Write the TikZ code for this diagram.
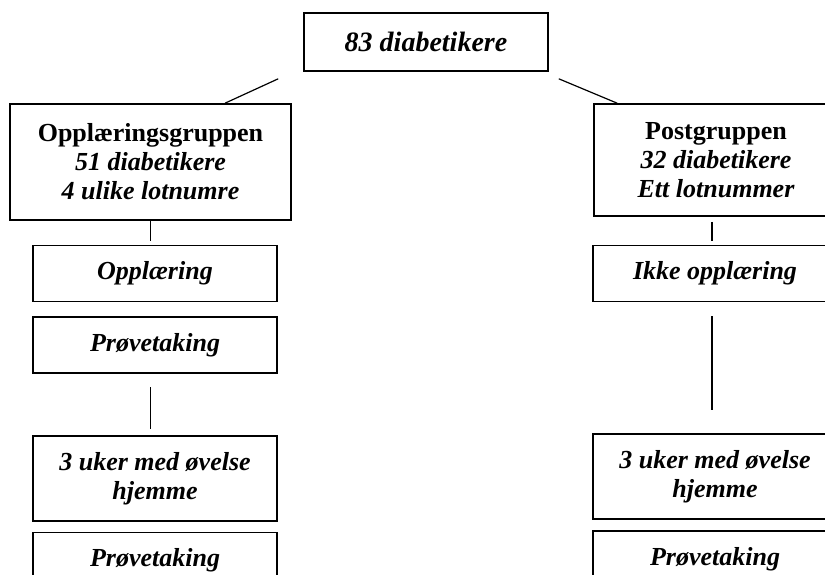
\documentclass[tikz,border=0pt]{standalone}
\usepackage{fontspec}
\setmainfont{Liberation Serif}
\usepackage{tikz}
\usetikzlibrary{positioning,calc}
\tikzset{
box/.style={
draw,
line width=0.8pt,
align=center,
inner sep=0pt,
font=\fontsize{13}{14.5}\selectfont\bfseries\itshape
},
groupbox/.style={
box,
minimum width=140.5pt,
minimum height=58pt
},
stagebox/.style={
box,
minimum width=122pt,
minimum height=28pt
},
link/.style={
line width=0.6pt
}
}
\begin{document}
\begin{tikzpicture}
\useasboundingbox (0,0) rectangle (412.5pt,-287pt);
\clip (0,0) rectangle (412.5pt,-287pt);

\node[box,minimum width=122pt,minimum height=29pt,font=\fontsize{14}{16}\selectfont\bfseries\itshape] (total) at (213pt,-21pt) {83 diabetikere};

% left column
\node[groupbox] (oppgr) at (75.25pt,-81pt) {{\upshape Opplæringsgruppen}\\51 diabetikere\\4 ulike lotnumre};
\node[stagebox,below=12pt of oppgr,xshift=2.25pt] (oppl) {Opplæring};
\node[stagebox,below=7pt of oppl] (prov1) {Prøvetaking};
\node[stagebox,below=30.5pt of prov1,minimum height=42.5pt] (uker1) {3 uker med øvelse\\hjemme};
\node[stagebox,below=5pt of uker1] (prov2) {Prøvetaking};

% right column
\node[groupbox,minimum width=122pt,minimum height=56pt] (postgr) at (358pt,-80pt) {{\upshape Postgruppen}\\32 diabetikere\\Ett lotnummer};
\node[stagebox,below=14pt of postgr,xshift=-0.5pt] (ikke) {Ikke opplæring};
\node[stagebox,below=65.5pt of ikke,minimum height=42.5pt] (uker2) {3 uker med øvelse\\hjemme};
\node[stagebox,below=5pt of uker2] (prov3) {Prøvetaking};

\draw[link] ($(total.south west)+(-12.5pt,-3.5pt)$) -- ($(oppgr.north)+(37.25pt,0)$);
\draw[link] ($(total.south east)+(5pt,-3.5pt)$) -- ($(postgr.north west)+(12pt,0)$);

\draw[link,shorten >=2pt] (oppgr.south) -- (oppgr.south |- oppl.north);
\draw[link,shorten <=6.5pt,shorten >=3pt] (oppgr.south |- prov1.south) -- (oppgr.south |- uker1.north);

\draw[link,shorten <=2.5pt,shorten >=2pt] ($(postgr.south)+(-2pt,0)$) -- ($(ikke.north)+(-1.5pt,0)$);
\draw[link,shorten <=7pt,shorten >=11.5pt] ($(ikke.south)+(-1.5pt,0)$) -- ($(uker2.north)+(-1.5pt,0)$);
\end{tikzpicture}
\end{document}
